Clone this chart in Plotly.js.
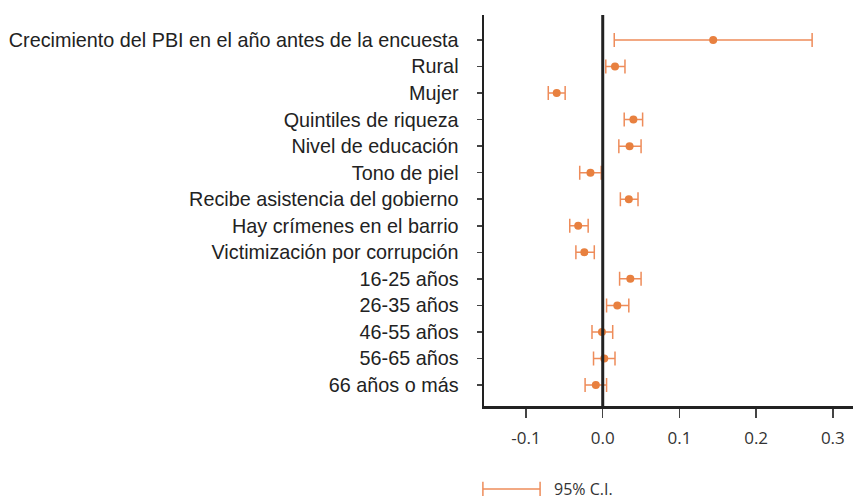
<!DOCTYPE html>
<html>
<head>
<meta charset="utf-8">
<script src="https://cdn.plot.ly/plotly-3.0.1.min.js"></script>
<style>html,body{margin:0;padding:0;background:#fff;}#chart{width:853px;height:500px;}</style>
</head>
<body>
<div id="chart"></div>
<script>
const categories = [
  "Crecimiento del PBI en el año antes de la encuesta",
  "Rural",
  "Mujer",
  "Quintiles de riqueza",
  "Nivel de educación",
  "Tono de piel",
  "Recibe asistencia del gobierno",
  "Hay crímenes en el barrio",
  "Victimización por corrupción",
  "16-25 años",
  "26-35 años",
  "46-55 años",
  "56-65 años",
  "66 años o más"
];
const estimates = [0.144, 0.016, -0.060, 0.040, 0.035, -0.016, 0.034, -0.032, -0.024, 0.036, 0.019, -0.001, 0.002, -0.009];
const ciLow     = [0.015, 0.004, -0.071, 0.028, 0.021, -0.030, 0.023, -0.043, -0.035, 0.022, 0.005, -0.014, -0.012, -0.023];
const ciHigh    = [0.273, 0.029, -0.049, 0.052, 0.050, -0.002, 0.046, -0.019, -0.011, 0.050, 0.034, 0.013, 0.016, 0.005];
const xTicks = [-0.1, 0.0, 0.1, 0.2, 0.3];
const xTickText = ["-0.1", "0.0", "0.1", "0.2", "0.3"];
const legendLabel = "95% C.I.";

const plus = estimates.map((v, i) => ciHigh[i] - v);
const minus = estimates.map((v, i) => v - ciLow[i]);

const orange = "#E8803F";
const barColor = "#EE8C5A";
const axisColor = "#222222";

const trace = {
  type: "scatter",
  mode: "markers",
  x: estimates,
  y: categories,
  marker: {color: orange, size: 8},
  error_x: {type: "data", symmetric: false, array: plus, arrayminus: minus,
            color: barColor, thickness: 1.5, width: 7},
  showlegend: false,
  hoverinfo: "x+y"
};

const layout = {
  width: 853, height: 500,
  margin: {l: 484, r: 0, t: 15, b: 94},
  paper_bgcolor: "#fff", plot_bgcolor: "#fff",
  showlegend: false,
  xaxis: {
    range: [-0.1548, 0.3263],
    tickvals: xTicks, ticktext: xTickText,
    showgrid: false, zeroline: false,
    showline: true, linecolor: axisColor, linewidth: 2.5,
    ticks: "outside", ticklen: 9, tickwidth: 1.5, tickcolor: "#444",
    ticklabelstandoff: 6,
    tickfont: {family: "Open Sans, Liberation Sans, sans-serif", size: 17, color: "#333"}
  },
  yaxis: {
    type: "category",
    categoryorder: "array", categoryarray: categories,
    range: [13.79, -0.94],
    showgrid: false, zeroline: false,
    showline: true, linecolor: axisColor, linewidth: 2.5,
    ticks: "outside", ticklen: 5, tickwidth: 1.5, tickcolor: "#444",
    ticklabelstandoff: 14,
    tickfont: {family: "Liberation Sans Narrow, Arial Narrow, Liberation Sans, sans-serif", size: 19.8, color: "#222"}
  },
  shapes: [
    {type: "line", xref: "x", yref: "paper", x0: 0, x1: 0, y0: 0, y1: 1,
     line: {color: axisColor, width: 3}},
    {type: "line", xref: "paper", yref: "paper", x0: -0.003, x1: 0.152, y0: -0.212, y1: -0.212,
     line: {color: barColor, width: 1.5}},
    {type: "line", xref: "paper", yref: "paper", x0: -0.003, x1: -0.003, y0: -0.194, y1: -0.230,
     line: {color: barColor, width: 1.5}},
    {type: "line", xref: "paper", yref: "paper", x0: 0.152, x1: 0.152, y0: -0.194, y1: -0.230,
     line: {color: barColor, width: 1.5}}
  ],
  annotations: [
    {xref: "paper", yref: "paper", x: 0.184, y: -0.212, xanchor: "left", yanchor: "middle",
     text: legendLabel, showarrow: false,
     font: {family: "Open Sans, Liberation Sans, sans-serif", size: 16, color: "#333"}}
  ]
};

Plotly.newPlot("chart", [trace], layout, {displayModeBar: false, staticPlot: true});
</script>
</body>
</html>
